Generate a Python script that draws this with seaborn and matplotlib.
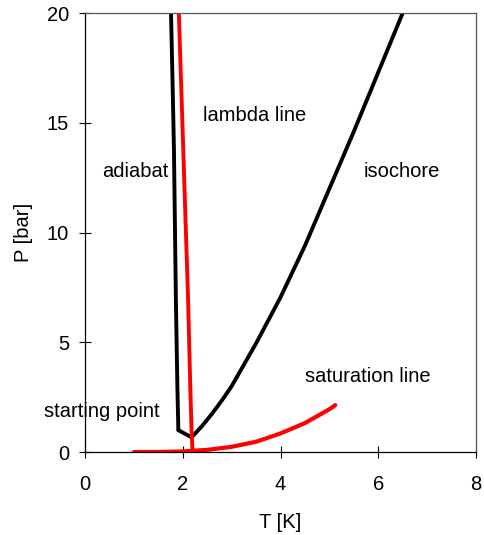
import pandas as pd
import matplotlib
matplotlib.use("Agg")
import matplotlib.pyplot as plt
import seaborn as sns

# values (T in K, P in bar)
adiabat_T = [1.76, 1.79, 1.82, 1.86, 1.89, 1.91]
adiabat_P = [20.0, 17.0, 13.8, 6.9, 3.0, 1.0]

isochore_T = [1.91, 2.18, 2.4, 2.6, 2.8, 3.0, 3.5, 4.0, 4.5, 5.0, 5.5, 6.0, 6.5]
isochore_P = [1.0, 0.67, 1.2, 1.75, 2.35, 3.0, 4.95, 7.05, 9.4, 12.0, 14.6, 17.3, 20.0]

lambda_T = [1.92, 2.01, 2.11, 2.15, 2.18, 2.2]
lambda_P = [20.0, 13.8, 6.9, 3.3, 1.0, 0.05]

saturation_T = [1.0, 1.5, 2.0, 2.5, 3.0, 3.5, 4.0, 4.5, 5.0, 5.12]
saturation_P = [0.0, 0.005, 0.03, 0.1, 0.24, 0.47, 0.85, 1.32, 1.95, 2.14]

labels = ["adiabat", "lambda line", "isochore", "saturation line", "starting point"]
label_T = [0.36, 2.41, 5.70, 4.50, -0.84]
label_P = [12.8, 15.35, 12.8, 3.43, 1.84]

sns.set_style("white")
plt.rcParams['font.family'] = ['Liberation Sans', 'DejaVu Sans']
plt.rcParams['text.color'] = 'black'
plt.rcParams['axes.labelcolor'] = 'black'

fig = plt.figure(figsize=(4.84, 5.35), dpi=100)
ax = fig.add_axes([0.1756, 0.155, 0.8079, 0.8207])

curves = [
    (adiabat_T, adiabat_P, 'black', 2.8),
    (isochore_T, isochore_P, 'black', 2.8),
    (lambda_T, lambda_P, 'red', 2.8),
    (saturation_T, saturation_P, 'red', 3.0),
]
for T, P, col, lw in curves:
    df = pd.DataFrame({'T': T, 'P': P})
    sns.lineplot(data=df, x='T', y='P', sort=False, estimator=None,
                 color=col, linewidth=lw, ax=ax)

for txt, t, p in zip(labels, label_T, label_P):
    ax.text(t, p, txt, fontsize=14.5, ha='left', va='center', color='black')

ax.set_xlim(0, 8)
ax.set_ylim(0, 20)
ax.set_xticks([0, 2, 4, 6, 8])
ax.set_yticks([0, 5, 10, 15, 20])
ax.tick_params(axis='x', direction='inout', length=9, width=0.8, pad=12,
               labelsize=14.5, bottom=True, colors='black')
ax.tick_params(axis='y', direction='inout', length=9, width=0.8, pad=7,
               labelsize=14.5, left=True, colors='black')
ax.set_xlabel('T [K]', fontsize=14.5, labelpad=14)
ax.set_ylabel('P [bar]', fontsize=14.5, labelpad=10)

for side in ['left', 'bottom']:
    ax.spines[side].set_color('black')
    ax.spines[side].set_linewidth(0.9)
for side in ['top', 'right']:
    ax.spines[side].set_color('#555555')
    ax.spines[side].set_linewidth(0.9)

fig.savefig('out.png', dpi=100)
